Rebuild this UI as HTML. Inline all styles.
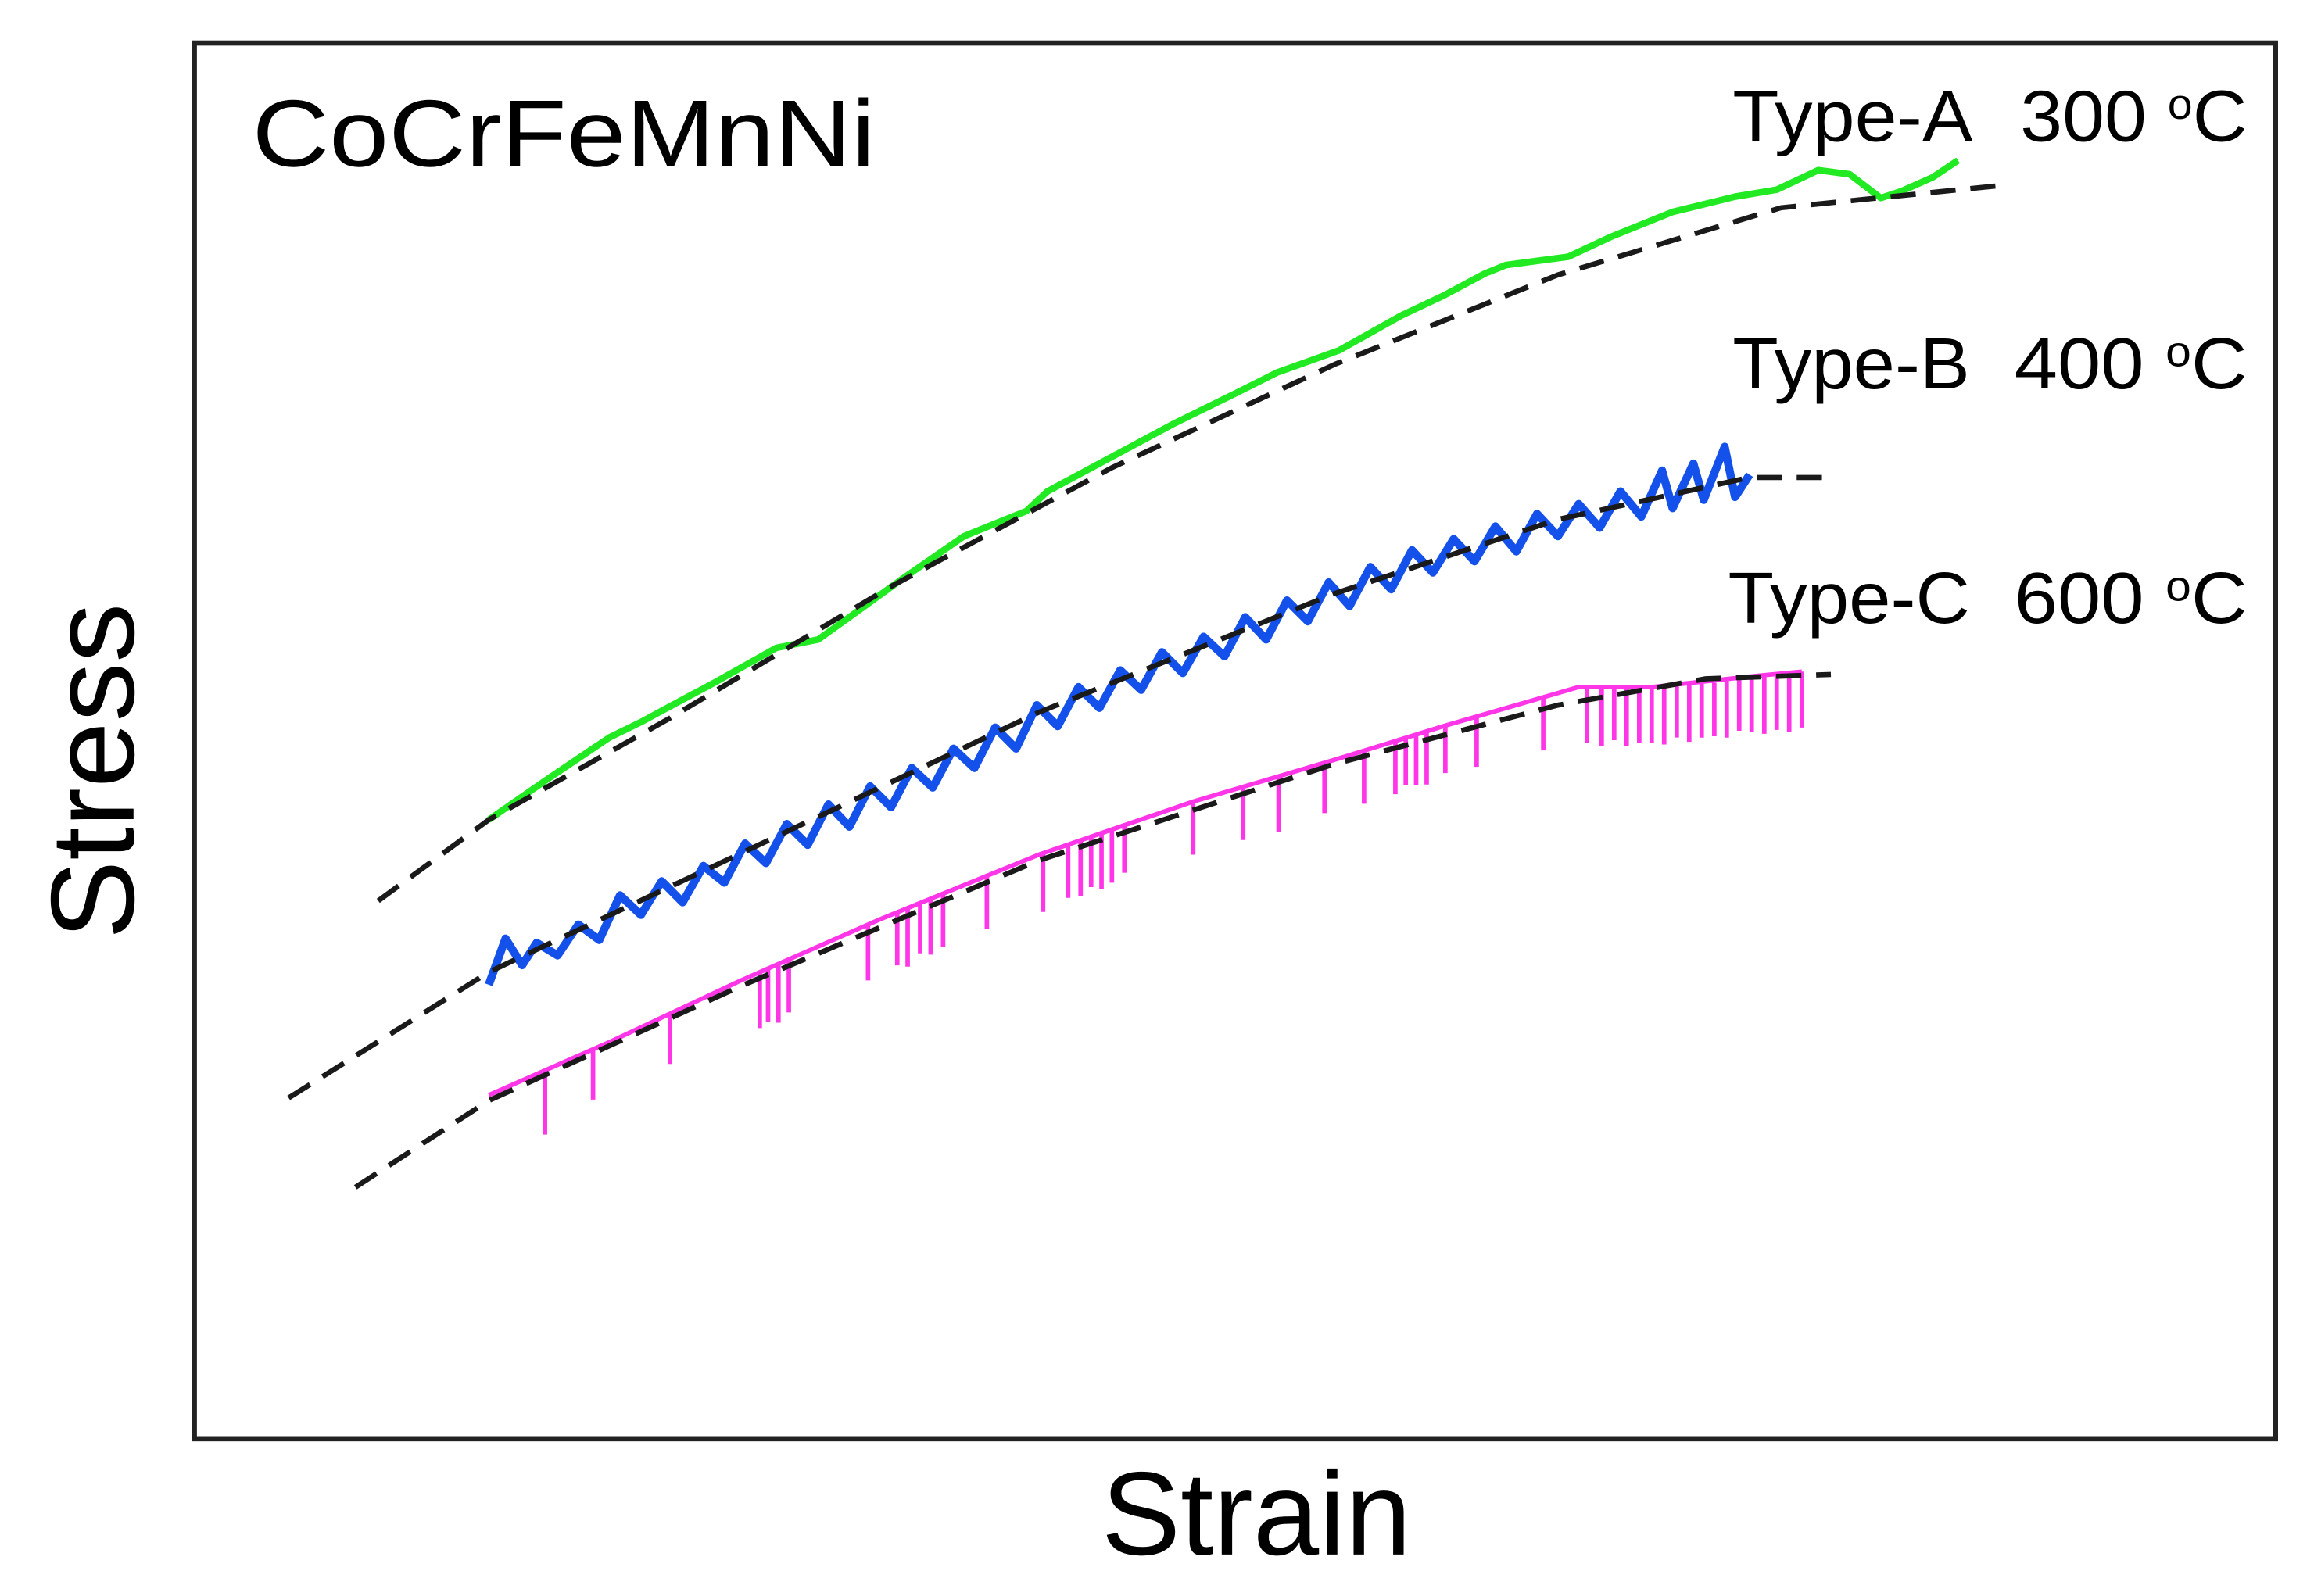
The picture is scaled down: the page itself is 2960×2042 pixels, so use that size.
<!DOCTYPE html>
<html><head><meta charset="utf-8"><style>
html,body{margin:0;padding:0;background:#fff;}
svg{display:block;}
text{font-family:"Liberation Sans",Arial,sans-serif;fill:#000;}
</style></head><body>
<svg id="chart" width="2960" height="2042" viewBox="0 0 1560 1076" preserveAspectRatio="none" xmlns="http://www.w3.org/2000/svg">
<rect x="131" y="29" width="1403" height="941" fill="#fff" stroke="#222" stroke-width="3.5"/>
<text x="170" y="112" font-size="64" textLength="420" lengthAdjust="spacingAndGlyphs">CoCrFeMnNi</text>
<g>
<text x="1168" y="95" font-size="49" textLength="162" lengthAdjust="spacingAndGlyphs">Type-A</text>
<text x="1362" y="95" font-size="49" textLength="153" lengthAdjust="spacingAndGlyphs">300 <tspan font-size="29" dy="-15">o</tspan><tspan dy="15">C</tspan></text>
</g>
<g>
<text x="1168" y="262" font-size="49" textLength="160" lengthAdjust="spacingAndGlyphs">Type-B</text>
<text x="1358" y="262" font-size="49" textLength="157" lengthAdjust="spacingAndGlyphs">400 <tspan font-size="29" dy="-15">o</tspan><tspan dy="15">C</tspan></text>
</g>
<g>
<text x="1165" y="420" font-size="49" textLength="163" lengthAdjust="spacingAndGlyphs">Type-C</text>
<text x="1358" y="420" font-size="49" textLength="157" lengthAdjust="spacingAndGlyphs">600 <tspan font-size="29" dy="-15">o</tspan><tspan dy="15">C</tspan></text>
</g>
<text transform="translate(90,520) rotate(-90)" font-size="80" text-anchor="middle">Stress</text>
<text x="847" y="1048" font-size="80" text-anchor="middle">Strain</text>
<g id="marks"></g>
</svg>
<script>
const fitAStrain=[8.9,14.2,22.8,33.5,44.1,54.8,65.5,76.2,86.8];
const fitAStress=[38.5,44.3,51.5,61.0,69.5,76.9,83.3,88.1,89.7];
const fitBStrain=[4.6,14.2,26.3,40.6,54.8,65.5,74.7,78.6];
const fitBStress=[24.4,33.4,41.9,52.0,60.5,65.8,68.8,68.8];
const fitCStrain=[7.8,14.2,26.3,40.6,54.8,65.5,72.6,78.6];
const fitCStress=[18.0,24.2,32.4,41.4,48.3,52.5,54.4,54.7];
const greenStrain=[14.2,17,20,21.5,23,25,28,30,31.5,34,37,40,41,44,47,50,52,55,58,60,62,63,66,68,71,74,76,78,79.5,81,82,83.5,84.7];
const greenStress=[44.3,47.2,50.2,51.3,52.5,54.1,56.6,57.2,58.8,61.5,64.6,66.4,67.8,70.2,72.6,74.8,76.3,77.9,80.4,81.8,83.4,84.0,84.6,86.0,87.8,88.9,89.4,90.8,90.5,88.8,89.3,90.3,91.5];
const blueStrain=[14.2,15.0,15.8,16.5,17.5,18.5,19.5,20.5,21.5,22.5,23.5,24.5,25.5,26.5,27.5,28.5,29.5,30.5,31.5,32.5,33.5,34.5,35.5,36.5,37.5,38.5,39.5,40.5,41.5,42.5,43.5,44.5,45.5,46.5,47.5,48.5,49.5,50.5,51.5,52.5,53.5,54.5,55.5,56.5,57.5,58.5,59.5,60.5,61.5,62.5,63.5,64.5,65.5,66.5,67.5,68.5,69.5,70.5,71.0,72.0,72.5,73.5,74.0,74.7];
const blueStress=[32.5,35.8,33.9,35.5,34.6,36.8,35.7,38.9,37.5,39.9,38.4,41.0,39.8,42.6,41.2,44.0,42.5,45.4,43.8,46.7,45.2,48.0,46.6,49.4,48.0,50.9,49.4,52.5,51.0,53.8,52.3,55.0,53.6,56.3,54.8,57.4,56.0,58.8,57.2,60.0,58.5,61.3,59.6,62.4,60.8,63.6,62.0,64.4,62.8,65.3,63.5,66.2,64.6,66.9,65.2,67.8,66.0,69.3,66.6,69.8,67.2,71.0,67.4,69.0];
const magStrain=[14.2,20,26.3,33,40.6,48,54.8,60,66.5,70,75,77.2];
const magStress=[24.6,28.4,32.8,37.2,41.8,45.6,48.6,51.0,53.8,53.8,54.6,54.9];
const dropStrain=[16.9,19.2,22.9,27.2,27.6,28.1,28.6,32.4,33.8,34.3,34.9,35.4,36.0,38.1,40.8,42.0,42.6,43.1,43.6,44.1,44.7,48.0,50.4,52.1,54.3,56.2,57.7,58.2,58.7,59.2,60.1,61.6,64.8,66.9,67.6,68.2,68.8,69.4,70.0,70.6,71.2,71.8,72.4,73.0,73.6,74.2,74.8,75.4,76.0,76.6,77.2];
const dropDepth=[4.6,3.6,3.6,4.0,3.8,4.2,3.8,4.0,3.8,4.2,3.6,4.0,3.8,3.8,4.2,3.8,4.0,3.6,4.0,3.8,3.4,3.8,3.8,4.0,3.6,3.8,3.8,3.4,3.6,3.8,3.4,3.6,3.8,4.0,4.2,3.8,4.2,4.0,4.0,4.2,3.8,4.2,4.0,4.0,4.2,3.8,4.0,4.2,4.0,4.2,4.0];

function xS(v){return 130+v*14.05;}
function yS(v){return 970-v*9.42;}
const g=document.getElementById('marks');
const NS='http://www.w3.org/2000/svg';
function pathFrom(xs,ys){return xs.map((x,i)=>(i?'L':'M')+xS(x).toFixed(1)+','+yS(ys[i]).toFixed(1)).join('');}
function addPath(d,stroke,w,dash,name){
  const p=document.createElementNS(NS,'path');
  p.setAttribute('d',d);p.setAttribute('fill','none');p.setAttribute('stroke',stroke);
  p.setAttribute('stroke-width',w);p.setAttribute('stroke-linejoin','round');
  if(dash)p.setAttribute('stroke-dasharray',dash);
  
  
  g.appendChild(p);return p;
}
function interp(xs,ys,x){for(let i=1;i<xs.length;i++){if(x<=xs[i]){const t=(x-xs[i-1])/(xs[i]-xs[i-1]);return ys[i-1]+t*(ys[i]-ys[i-1]);}}return ys[ys.length-1];}
addPath(pathFrom(greenStrain,greenStress),'#22ea22',4.5,null,'series-type-a');
addPath(pathFrom(blueStrain,blueStress),'#1450ea',5.5,null,'series-type-b');
let md=pathFrom(magStrain,magStress);
dropStrain.forEach((s,i)=>{const b=interp(magStrain,magStress,s);md+='M'+xS(s).toFixed(1)+','+yS(b).toFixed(1)+'L'+xS(s).toFixed(1)+','+yS(b-dropDepth[i]).toFixed(1);});
addPath(md,'#ff35e8',3,null,'series-type-c');
addPath(pathFrom(fitAStrain,fitAStress),'#1a1a1a',3.5,'17,10','fit-type-a');
addPath(pathFrom(fitBStrain,fitBStress),'#1a1a1a',3.5,'17,10','fit-type-b');
addPath(pathFrom(fitCStrain,fitCStress),'#1a1a1a',3.5,'17,10','fit-type-c');
</script>
</body></html>
